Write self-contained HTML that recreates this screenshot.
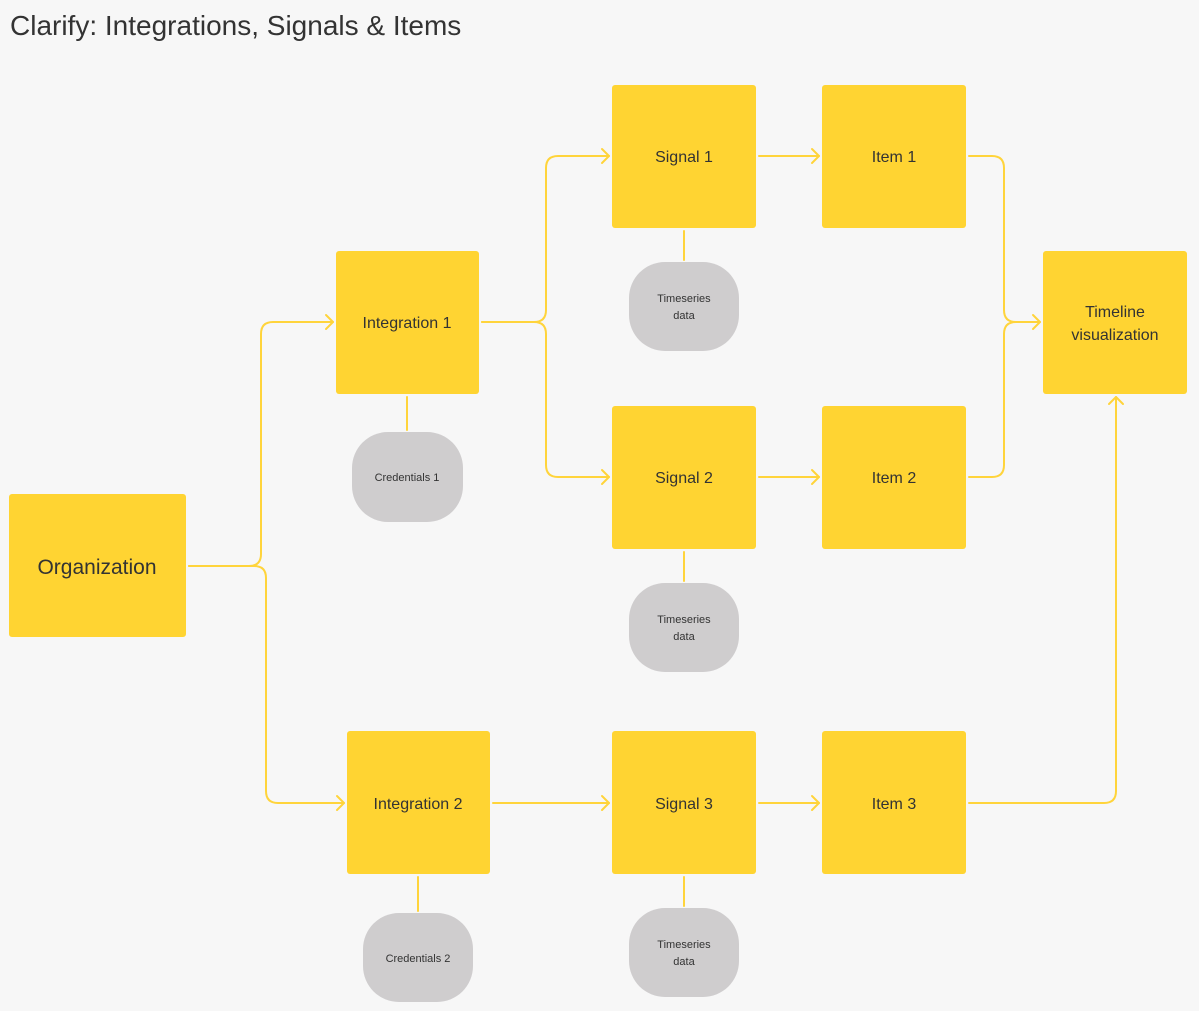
<!DOCTYPE html>
<html><head><meta charset="utf-8"><style>
html,body{margin:0;padding:0;background:#f7f7f7;}
svg{display:block}
text{font-family:"Liberation Sans",sans-serif;fill:#333;}
</style></head><body>
<svg width="1199" height="1011" viewBox="0 0 1199 1011" xmlns="http://www.w3.org/2000/svg">
<rect width="1199" height="1011" fill="#f7f7f7"/>
<text x="10" y="35" font-size="28" style="fill:#333">Clarify: Integrations, Signals &amp; Items</text>
<g fill="none" stroke="#FFD43B" stroke-width="2" stroke-linecap="round" stroke-linejoin="round">
<path d="M189 566 H249 Q261 566 261 554 V334 Q261 322 273 322 H333"/>
<path d="M189 566 H254 Q266 566 266 578 V791 Q266 803 278 803 H344"/>
<path d="M482 322 H534 Q546 322 546 310 V168 Q546 156 558 156 H609"/>
<path d="M482 322 H534 Q546 322 546 334 V465 Q546 477 558 477 H609"/>
<path d="M759 156 H819"/><path d="M759 477 H819"/>
<path d="M493 803 H609"/><path d="M759 803 H819"/>
<path d="M969 156 H992 Q1004 156 1004 168 V310 Q1004 322 1016 322 H1040"/>
<path d="M969 477 H992 Q1004 477 1004 465 V334 Q1004 322 1016 322"/>
<path d="M969 803 H1104 Q1116 803 1116 791 V397"/>
<path d="M407 397 V430"/><path d="M684 231 V260"/><path d="M684 552 V581"/>
<path d="M418 877 V911"/><path d="M684 877 V906"/>
<path d="M326 315 L333 322 L326 329"/><path d="M337 796 L344 803 L337 810"/>
<path d="M602 149 L609 156 L602 163"/><path d="M602 470 L609 477 L602 484"/>
<path d="M602 796 L609 803 L602 810"/>
<path d="M812 149 L819 156 L812 163"/><path d="M812 470 L819 477 L812 484"/>
<path d="M812 796 L819 803 L812 810"/>
<path d="M1033 315 L1040 322 L1033 329"/>
<path d="M1109 404 L1116 397 L1123 404"/>
</g>
<g fill="#FFD432">
<rect x="9" y="494" width="177" height="143" rx="3"/>
<rect x="336" y="251" width="143" height="143" rx="3"/>
<rect x="612" y="85" width="144" height="143" rx="3"/>
<rect x="822" y="85" width="144" height="143" rx="3"/>
<rect x="1043" y="251" width="144" height="143" rx="3"/>
<rect x="612" y="406" width="144" height="143" rx="3"/>
<rect x="822" y="406" width="144" height="143" rx="3"/>
<rect x="347" y="731" width="143" height="143" rx="3"/>
<rect x="612" y="731" width="144" height="143" rx="3"/>
<rect x="822" y="731" width="144" height="143" rx="3"/>
</g>
<g fill="#CFCDCE">
<rect x="629" y="262" width="110" height="89" rx="36"/>
<rect x="352" y="432" width="111" height="90" rx="36"/>
<rect x="629" y="583" width="110" height="89" rx="36"/>
<rect x="363" y="913" width="110" height="89" rx="36"/>
<rect x="629" y="908" width="110" height="89" rx="36"/>
</g>
<g text-anchor="middle" font-size="16" font-weight="500">
<text x="97" y="574" font-size="21">Organization</text>
<text x="407" y="328">Integration 1</text>
<text x="418" y="809">Integration 2</text>
<text x="684" y="162">Signal 1</text>
<text x="684" y="483">Signal 2</text>
<text x="684" y="809">Signal 3</text>
<text x="894" y="162">Item 1</text>
<text x="894" y="483">Item 2</text>
<text x="894" y="809">Item 3</text>
<text x="1115" y="317">Timeline</text>
<text x="1115" y="340">visualization</text>
</g>
<g text-anchor="middle" font-size="11">
<text x="684" y="302">Timeseries</text><text x="684" y="319">data</text>
<text x="684" y="623">Timeseries</text><text x="684" y="640">data</text>
<text x="684" y="948">Timeseries</text><text x="684" y="965">data</text>
<text x="407" y="481">Credentials 1</text>
<text x="418" y="962">Credentials 2</text>
</g>
</svg>
</body></html>
